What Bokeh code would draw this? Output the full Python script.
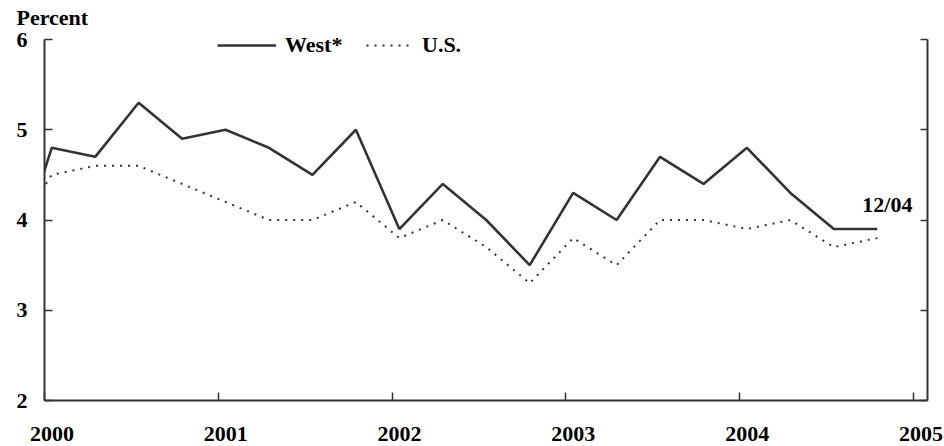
from bokeh.plotting import figure
from bokeh.models import (Range1d, LinearAxis, FixedTicker, Legend, LegendItem,
                          Label, ColumnDataSource, Title)
from bokeh.embed import file_html
from bokeh.resources import INLINE

# ---- data ----
months = ["1999-12",
          "2000-01", "2000-04", "2000-07", "2000-10",
          "2001-01", "2001-04", "2001-07", "2001-10",
          "2002-01", "2002-04", "2002-07", "2002-10",
          "2003-01", "2003-04", "2003-07", "2003-10",
          "2004-01", "2004-04", "2004-07", "2004-10"]
west = [4.3,
        4.8, 4.7, 5.3, 4.9,
        5.0, 4.8, 4.5, 5.0,
        3.9, 4.4, 4.0, 3.5,
        4.3, 4.0, 4.7, 4.4,
        4.8, 4.3, 3.9, 3.9]
us = [4.25,
      4.5, 4.6, 4.6, 4.4,
      4.2, 4.0, 4.0, 4.2,
      3.8, 4.0, 3.7, 3.3,
      3.8, 3.5, 4.0, 4.0,
      3.9, 4.0, 3.7, 3.8]
year_ticks = [2000, 2001, 2002, 2003, 2004, 2005]
pct_ticks = [2, 3, 4, 5, 6]
last_label = "12/04"
y_label = "Percent"


def to_year(m):
    y, mo = m.split("-")
    return int(y) + (int(mo) - 0.5) / 12.0


t = [to_year(m) for m in months]
src = ColumnDataSource(dict(t=t, west=west, us=us))

FONT = "Liberation Serif"
FS = "22px"
INK = "#333333"

x_end = 2005.0806
shift = 0.043

p = figure(width=944, height=446, output_backend="svg", toolbar_location=None,
           x_range=Range1d(2000, x_end), y_range=Range1d(2, 6.1),
           x_axis_type=None, y_axis_type=None,
           min_border_left=44, min_border_right=17, min_border_top=30,
           min_border_bottom=46)
p.outline_line_color = None
p.grid.visible = False
p.background_fill_color = "white"
p.border_fill_color = "white"
p.extra_x_ranges = {"lab": Range1d(2000 - shift, x_end - shift)}

p.title = Title(text=y_label, align="left", offset=-28, standoff=2,
                vertical_align="bottom",
                text_font=FONT, text_font_size=FS, text_font_style="bold",
                text_color="black")

r_west = p.line("t", "west", source=src, line_color=INK, line_width=2.6)
r_us = p.line("t", "us", source=src, line_color=INK, line_width=2,
              line_dash="2 6")

# bottom axis with ticks (inward), labels not drawn
xa = LinearAxis(ticker=FixedTicker(ticks=year_ticks),
                major_tick_in=8, major_tick_out=0,
                minor_tick_line_color=None,
                axis_line_color=INK, axis_line_width=2,
                major_tick_line_color=INK, major_tick_line_width=1.5,
                major_label_text_color=None, major_label_text_font_size="1px",
                major_label_standoff=0)
p.add_layout(xa, "below")
# bottom labels (slightly shifted right, as in the reference)
xl = LinearAxis(x_range_name="lab", ticker=FixedTicker(ticks=year_ticks),
                axis_line_color=None, major_tick_line_color=None,
                minor_tick_line_color=None, major_tick_in=0, major_tick_out=0,
                major_label_standoff=26,
                major_label_text_font=FONT, major_label_text_font_size=FS,
                major_label_text_font_style="bold",
                major_label_text_color="black")
p.add_layout(xl, "below")

ya = LinearAxis(ticker=FixedTicker(ticks=pct_ticks), bounds=(2, 6),
                major_tick_in=8, major_tick_out=0,
                minor_tick_line_color=None,
                axis_line_color=INK, axis_line_width=2,
                major_tick_line_color=INK, major_tick_line_width=1.5,
                major_label_standoff=17,
                major_label_text_font=FONT, major_label_text_font_size=FS,
                major_label_text_font_style="bold",
                major_label_text_color="black")
p.add_layout(ya, "left")
yr = LinearAxis(ticker=FixedTicker(ticks=pct_ticks), bounds=(2, 6),
                major_tick_in=7, major_tick_out=0,
                minor_tick_line_color=None,
                axis_line_color=INK, axis_line_width=2,
                major_tick_line_color=INK, major_tick_line_width=1.5,
                major_label_text_color=None, major_label_text_font_size="1px",
                major_label_standoff=0)
p.add_layout(yr, "right")


def make_legend(label, rend, gw, loc):
    lg = Legend(items=[LegendItem(label=label, renderers=[rend])],
                location=loc, orientation="horizontal",
                glyph_width=gw, glyph_height=26, label_height=26,
                label_standoff=9, padding=0, margin=0, spacing=0,
                border_line_color=None, background_fill_alpha=0,
                label_text_font=FONT, label_text_font_size=FS,
                label_text_font_style="bold", label_text_color="black")
    p.add_layout(lg, "center")


make_legend("West*", r_west, 59, (173, 342))
make_legend("U.S.", r_us, 47, (322, 342))

p.add_layout(Label(x=t[-1], y=west[-1], x_offset=-15, y_offset=25,
                   text=last_label, text_font=FONT, text_font_size=FS,
                   text_font_style="bold", text_color="black",
                   text_baseline="alphabetic"))

open("out.html", "w").write(file_html(p, INLINE))
